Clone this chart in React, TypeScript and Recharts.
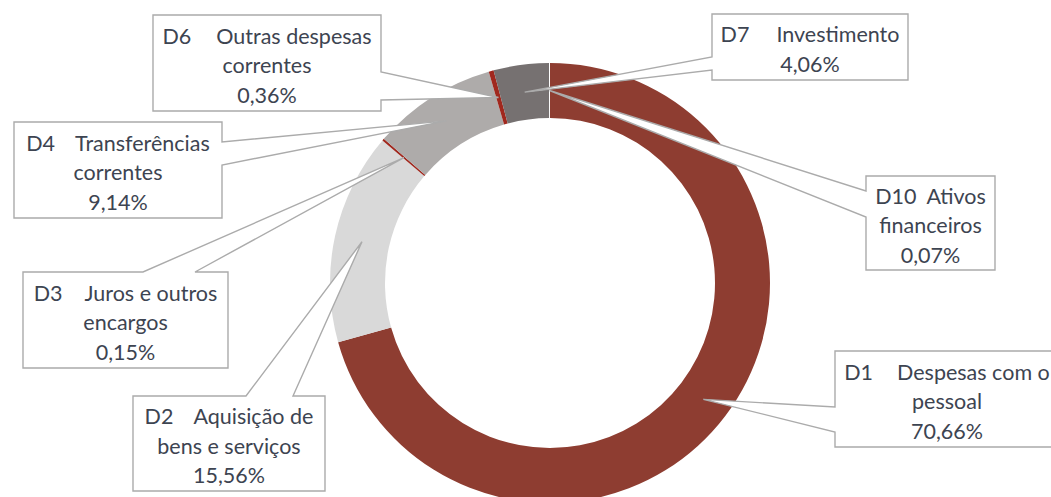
import { PieChart, Pie, Cell } from "recharts";

const categories = ["D1", "D2", "D3", "D4", "D6", "D7", "D10"];
const descriptions = [
  "Despesas com o pessoal",
  "Aquisição de bens e serviços",
  "Juros e outros encargos",
  "Transferências correntes",
  "Outras despesas correntes",
  "Investimento",
  "Ativos financeiros",
];
const shares = [70.66, 15.56, 0.15, 9.14, 0.36, 4.06, 0.07];

const COLORS = ["#8E3D31", "#D9D9D9", "#A0281E", "#AEABAA", "#A0281E", "#767171", "#FFFFFF"];

const data = categories.map((code, i) => ({
  code,
  desc: descriptions[i],
  value: shares[i],
}));

type Side = "left" | "right" | "top";
interface Callout {
  x: number; y: number; w: number; h: number;
  side: Side; a1: number; a2: number;
  words: number; // words of the description on the first line
  gap: number;   // space between code and description
}

// callout boxes (Excel-style data label callouts)
const CALLOUTS: Record<string, Callout> = {
  D1:  { x: 835, y: 351, w: 224, h: 96, side: "left",  a1: 407, a2: 432, words: 3, gap: 24 },
  D2:  { x: 133, y: 396, w: 192, h: 95, side: "top",   a1: 246, a2: 293, words: 2, gap: 20 },
  D3:  { x: 23,  y: 272, w: 205, h: 96, side: "top",   a1: 143, a2: 195, words: 3, gap: 22 },
  D4:  { x: 14,  y: 122, w: 208, h: 96, side: "right", a1: 142, a2: 165, words: 1, gap: 20 },
  D6:  { x: 153, y: 15,  w: 228, h: 96, side: "right", a1: 72,  a2: 100, words: 2, gap: 25 },
  D7:  { x: 712, y: 14,  w: 196, h: 66, side: "left",  a1: 57,  a2: 70,  words: 1, gap: 27 },
  D10: { x: 866, y: 176, w: 129, h: 94, side: "left",  a1: 191, a2: 217, words: 1, gap: 10 },
};

const RAD = Math.PI / 180;
const LINE_H = 29.5;
const TEXT_COLOR = "#3D4451";
const FONT = "Lato, 'Noto Sans', sans-serif";
const FONT_SIZE = 21.5;

const fmt = (v: number) => v.toFixed(2).replace(".", ",") + "%";

// eslint-disable-next-line @typescript-eslint/no-explicit-any
function CalloutLabel(props: any) {
  const { cx, cy, midAngle, innerRadius, outerRadius, payload } = props;
  const c = CALLOUTS[payload.code];
  if (!c) return null;
  const r = (innerRadius + outerRadius) / 2;
  const tx = cx + r * Math.cos(-midAngle * RAD);
  const ty = cy + r * Math.sin(-midAngle * RAD);

  const { x, y, w, h } = c;
  let d = `M${x},${y}`;
  if (c.side === "top") d += ` L${c.a1},${y} L${tx},${ty} L${c.a2},${y}`;
  d += ` L${x + w},${y}`;
  if (c.side === "right") d += ` L${x + w},${c.a1} L${tx},${ty} L${x + w},${c.a2}`;
  d += ` L${x + w},${y + h} L${x},${y + h}`;
  if (c.side === "left") d += ` L${x},${c.a2} L${tx},${ty} L${x},${c.a1}`;
  d += " Z";

  const words = String(payload.desc).split(" ");
  const first = words.slice(0, c.words).join(" ");
  const rest = words.slice(c.words).join(" ");
  const lines = rest ? 3 : 2;
  const top = y + (h - lines * LINE_H) / 2 + LINE_H / 2 + 2;
  const mid = x + w / 2;
  const textProps = {
    x: mid,
    textAnchor: "middle" as const,
    dominantBaseline: "central" as const,
    fill: TEXT_COLOR,
    fontSize: FONT_SIZE,
    fontFamily: FONT,
  };

  return (
    <g>
      <path d={d} fill="#fff" stroke="#ABABAB" strokeWidth={1.4} strokeLinejoin="miter" />
      <text {...textProps} y={top}>
        <tspan>{payload.code}</tspan>
        <tspan dx={c.gap}>{first}</tspan>
      </text>
      {rest && (
        <text {...textProps} y={top + LINE_H}>
          {rest}
        </text>
      )}
      <text {...textProps} y={top + (lines - 1) * LINE_H}>
        {fmt(payload.value)}
      </text>
    </g>
  );
}

export default function App() {
  return (
    <div style={{ position: "absolute", left: 0, top: 0, width: 1051, height: 497, background: "#fff" }}>
      <PieChart width={1051} height={497} margin={{ top: 0, right: 0, bottom: 0, left: 0 }}>
        <Pie
          data={data}
          dataKey="value"
          nameKey="code"
          cx={550}
          cy={283}
          innerRadius={165}
          outerRadius={220}
          startAngle={90}
          endAngle={-270}
          stroke="none"
          label={CalloutLabel}
          labelLine={false}
          isAnimationActive={false}
        >
          {data.map((d, i) => (
            <Cell key={d.code} fill={COLORS[i]} stroke="none" />
          ))}
        </Pie>
      </PieChart>
    </div>
  );
}
